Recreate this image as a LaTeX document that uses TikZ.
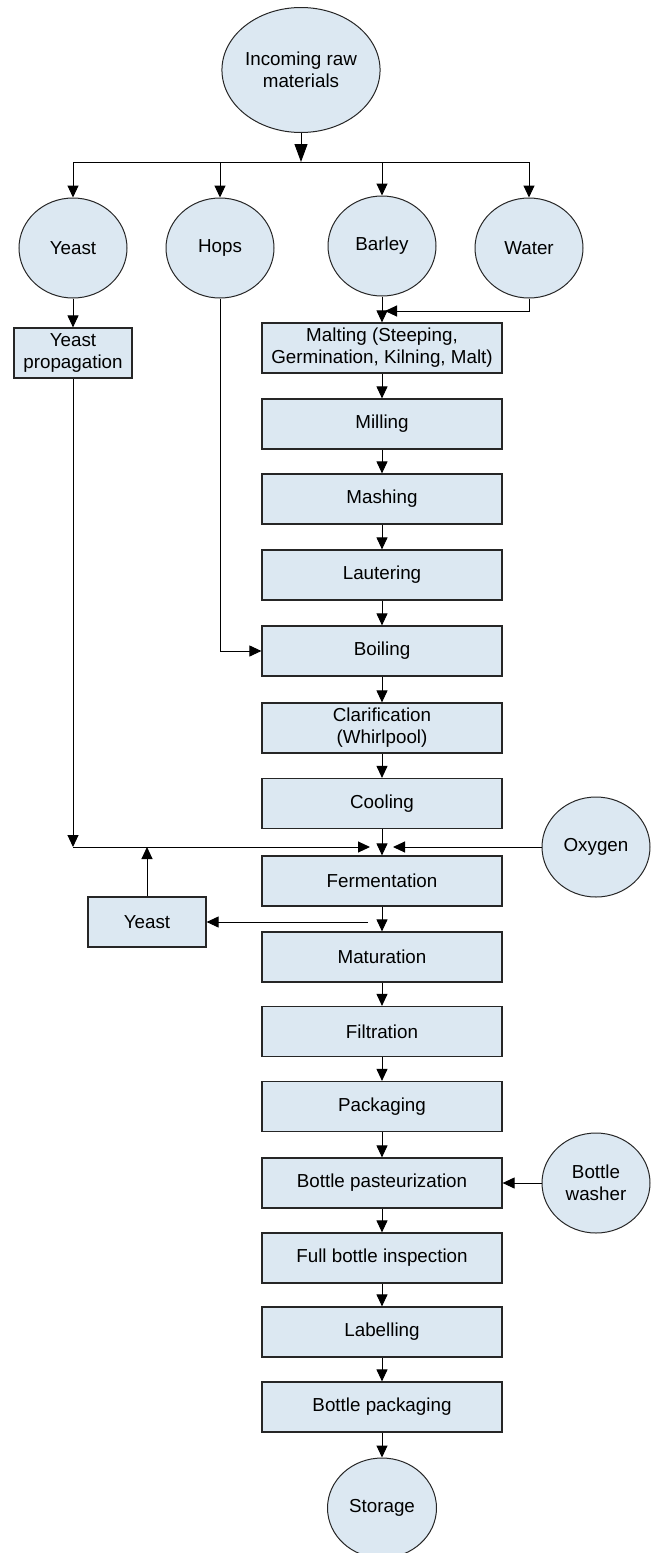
\documentclass[tikz,border=0pt]{standalone}
\usepackage{fontspec}
\setmainfont{Liberation Sans}
\usepackage{xcolor}
\usetikzlibrary{arrows.meta,shapes.geometric}
\definecolor{procblue}{HTML}{DCE8F2}

\begin{document}
\begin{tikzpicture}[x=1pt,y=-1pt,
  font=\fontsize{18.8}{22}\selectfont,
  proc/.style={draw=black!85,line width=1.2pt,fill=procblue,minimum width=240pt,minimum height=50pt,align=center,inner sep=0pt},
  src/.style={ellipse,draw=black!85,line width=1pt,fill=procblue,minimum width=108pt,minimum height=100pt,align=center,inner sep=0pt},
  flow/.style={line width=1pt,-{Triangle[length=12pt,width=11pt]}},
  link/.style={line width=1pt}]
\useasboundingbox (0,0) rectangle (653,1553);

% raw materials
\node[src,minimum width=135pt,minimum height=125pt] (raw) at (301,70) {Incoming raw\\materials};
\node[src] (yeast) at (73,248) {Yeast};
\node[src] (hops) at (220,248) {Hops};
\node[src] (barley) at (382,246) {Barley};
\node[src] (water) at (529,248) {Water};

% brewing line
\node[proc] (malting) at (382,348) {Malting (Steeping,\\Germination, Kilning, Malt)};
\node[proc,minimum width=118pt] (yprop) at (73,353) {Yeast\\propagation};
\node[proc] (milling) at (382,424) {Milling};
\node[proc] (mashing) at (382,499) {Mashing};
\node[proc] (lautering) at (382,575) {Lautering};
\node[proc] (boiling) at (382,651) {Boiling};
\node[proc] (clarif) at (382,728) {Clarification\\(Whirlpool)};
\node[proc] (cooling) at (382,803.5) {Cooling};
\node[proc] (ferment) at (382,881) {Fermentation};
\node[src] (oxygen) at (596,847) {Oxygen};
\node[proc,minimum width=118pt] (yeastback) at (147,922) {Yeast};
\node[proc] (matur) at (382,957) {Maturation};
\node[proc] (filtr) at (382,1031.5) {Filtration};
\node[proc] (packag) at (382,1106.5) {Packaging};
\node[proc] (pasteur) at (382,1183) {Bottle pasteurization};
\node[src] (washer) at (596,1183) {Bottle\\washer};
\node[proc] (inspect) at (382,1258) {Full bottle inspection};
\node[proc] (label) at (382,1332) {Labelling};
\node[proc] (bpack) at (382,1407) {Bottle packaging};
\node[src,minimum width=109pt] (storage) at (382,1508) {Storage};

\coordinate (split) at (301,162);
\coordinate (wjoin) at (385,311);
\coordinate (yjoin) at (73,847);
\coordinate (lin) at (370,847);
\coordinate (rin) at (393,847);
\coordinate (yout) at (368,922);

% distribution of raw materials
\draw[line width=1pt,-{Triangle[length=18pt,width=13pt]}] (raw.south) -- (split);
\draw[link] (split -| yeast) -- (split -| water);
\foreach \n in {yeast,hops,barley,water}
  \draw[flow] (split -| \n) -- (\n.north);

\draw[flow] (barley.south) -- (malting.north);
\draw[flow] (water.south) |- (wjoin);
\draw[flow] (yeast.south) -- (yprop.north);
\draw[flow] (hops.south) |- (boiling.west);

% main chain
\draw[flow] (malting.south) -- (milling.north);
\draw[flow] (milling.south) -- (mashing.north);
\draw[flow] (mashing.south) -- (lautering.north);
\draw[flow] (lautering.south) -- (boiling.north);
\draw[flow] (boiling.south) -- (clarif.north);
\draw[flow] (clarif.south) -- (cooling.north);
\draw[flow] (cooling.south) -- (ferment.north);
\draw[flow] (ferment.south) -- (matur.north);
\draw[flow] (matur.south) -- (filtr.north);
\draw[flow] (filtr.south) -- (packag.north);
\draw[flow] (packag.south) -- (pasteur.north);
\draw[flow] (pasteur.south) -- (inspect.north);
\draw[flow] (inspect.south) -- (label.north);
\draw[flow] (label.south) -- (bpack.north);
\draw[flow] (bpack.south) -- (storage.north);

% yeast and oxygen into fermentation
\draw[flow] (yprop.south) -- (yjoin);
\draw[flow] (yjoin) -- (lin);
\draw[flow] (oxygen.west) -- (rin);
\draw[flow] (yout) -- (yeastback.east);
\draw[flow] (yeastback.north) -- (yeastback.north |- yjoin);
\draw[flow] (washer.west) -- (pasteur.east);
\end{tikzpicture}
\end{document}
